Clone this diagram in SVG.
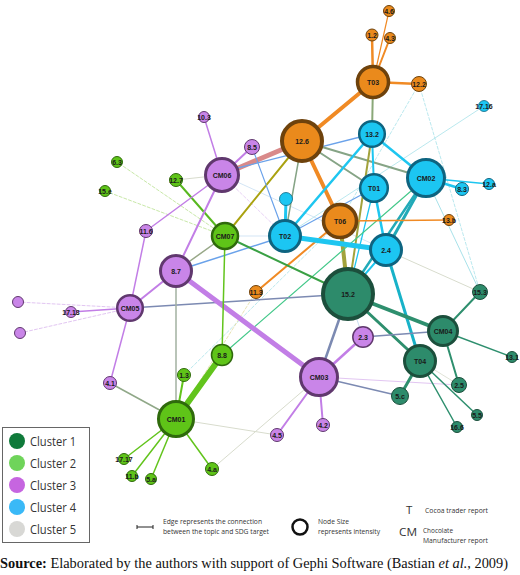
<svg xmlns="http://www.w3.org/2000/svg" width="520" height="575" viewBox="0 0 520 575">
<style>
.e{fill:none;stroke-linecap:round}
.or{stroke:#f08a24}.ol{stroke:#a2a23c}.gg{stroke:#86a486}.bl{stroke:#6aa2ea}.cy{stroke:#1ec6f0}.tl{stroke:#22aab8}
.tg{stroke:#2e8f6e}.sl{stroke:#7c8ab2}.pu{stroke:#c27ee6}.li{stroke:#62c41c}.sa{stroke:#d98a8a}.gr{stroke:#3aa044}
.pl{stroke:#d8dccd}.pc{stroke:#a8e2ea}.pp{stroke:#e2c6f2}.pg{stroke:#c8e8a8}.py{stroke:#e2dca2}.pb{stroke:#c8def2}.mg{stroke:#44c88a}
.d{stroke-dasharray:3 2}
.c1{fill:#2d8b6b;stroke:#1c4f3c}.c2{fill:#5fc418;stroke:#2f6a0c}.c3{fill:#c985e8;stroke:#60386e}.c4{fill:#1cc6f2;stroke:#0e6480}.c5{fill:#ea8a1c;stroke:#6e420c}
.lb{font-family:"Liberation Sans",Arial,sans-serif;font-weight:bold;font-size:7px;fill:#1a1a1a;text-anchor:middle;dominant-baseline:central}
.lg{font-family:"Open Sans",sans-serif;fill:#333}
</style>
<rect width="520" height="575" fill="#fff"/>
<g id="connectors">
<line class="e pc" x1="484" y1="106" x2="285" y2="236" stroke-width="0.8"/>
<line class="e pc d" x1="419" y1="84" x2="340" y2="221" stroke-width="0.8"/>
<line class="e pc d" x1="419" y1="84" x2="480" y2="292" stroke-width="0.8"/>
<line class="e pc" x1="426" y1="178" x2="480" y2="292" stroke-width="1"/>
<line class="e pl" x1="386" y1="250" x2="480" y2="292" stroke-width="1"/>
<line class="e pl" x1="420" y1="361" x2="459" y2="385" stroke-width="0.8"/>
<line class="e pp" x1="319" y1="377" x2="459" y2="385" stroke-width="1"/>
<line class="e pb" x1="348" y1="294" x2="363" y2="337" stroke-width="1"/>
<line class="e pl" x1="176" y1="419" x2="277" y2="435" stroke-width="1"/>
<line class="e pl" x1="212" y1="469" x2="319" y2="377" stroke-width="1"/>
<line class="e pc d" x1="184" y1="375" x2="340" y2="221" stroke-width="0.8"/>
<line class="e py d" x1="176" y1="419" x2="256" y2="292" stroke-width="0.8"/>
<line class="e pg d" x1="225" y1="236" x2="117" y2="162" stroke-width="1"/>
<line class="e pg d" x1="225" y1="236" x2="105" y2="191" stroke-width="1"/>
<line class="e pl" x1="222" y1="175" x2="176" y2="180" stroke-width="1"/>
<line class="e pp d" x1="222" y1="175" x2="285" y2="236" stroke-width="0.8"/>
<line class="e pb" x1="222" y1="175" x2="386" y2="250" stroke-width="0.8"/>
<line class="e pp d" x1="130" y1="308" x2="18" y2="302" stroke-width="1"/>
<line class="e pp d" x1="130" y1="308" x2="20" y2="333" stroke-width="1"/>
<line class="e pb" x1="225" y1="236" x2="285" y2="236" stroke-width="0.8"/>
<line class="e or" x1="373" y1="82" x2="389" y2="11" stroke-width="1.2"/>
<line class="e or" x1="373" y1="82" x2="372" y2="35" stroke-width="2.5"/>
<line class="e or" x1="373" y1="82" x2="390" y2="38" stroke-width="2"/>
<line class="e or" x1="373" y1="82" x2="419" y2="84" stroke-width="2.5"/>
<line class="e or" x1="373" y1="82" x2="302" y2="141" stroke-width="4"/>
<line class="e" stroke="#8aa878" x1="373" y1="82" x2="372" y2="134" stroke-width="2"/>
<line class="e sa" x1="302" y1="141" x2="222" y2="175" stroke-width="5"/>
<line class="e bl" x1="222" y1="172" x2="372" y2="134" stroke-width="1.3"/>
<line class="e or" x1="302" y1="141" x2="340" y2="221" stroke-width="4"/>
<line class="e gg" x1="302" y1="141" x2="426" y2="178" stroke-width="2"/>
<line class="e gg" x1="302" y1="141" x2="374" y2="188" stroke-width="2"/>
<line class="e gg" x1="302" y1="141" x2="285" y2="236" stroke-width="1.5"/>
<line class="e" stroke="#aaa210" x1="302" y1="141" x2="225" y2="236" stroke-width="2"/>
<line class="e bl" x1="252" y1="147" x2="285" y2="236" stroke-width="1.2"/>
<line class="e pu" x1="252" y1="147" x2="222" y2="175" stroke-width="2"/>
<line class="e cy" x1="372" y1="134" x2="374" y2="188" stroke-width="2"/>
<line class="e cy" x1="372" y1="134" x2="426" y2="178" stroke-width="2.5"/>
<line class="e cy" x1="372" y1="134" x2="285" y2="236" stroke-width="2.5"/>
<line class="e ol" x1="372" y1="134" x2="348" y2="294" stroke-width="2"/>
<line class="e ol" x1="340" y1="221" x2="348" y2="294" stroke-width="4"/>
<line class="e cy" x1="374" y1="188" x2="348" y2="294" stroke-width="1.3"/>
<line class="e cy" x1="374" y1="188" x2="386" y2="250" stroke-width="2.5"/>
<line class="e bl" x1="374" y1="188" x2="285" y2="236" stroke-width="1.2"/>
<line class="e cy" x1="426" y1="178" x2="462" y2="189" stroke-width="2.5"/>
<line class="e cy" x1="426" y1="178" x2="489" y2="184" stroke-width="1.5"/>
<line class="e tl" x1="426" y1="178" x2="386" y2="250" stroke-width="3"/>
<line class="e tl" x1="426" y1="178" x2="348" y2="294" stroke-width="2.5"/>
<line class="e mg" x1="426" y1="178" x2="222" y2="355" stroke-width="1.2"/>
<line class="e or" x1="340" y1="221" x2="449" y2="220" stroke-width="1.5"/>
<line class="e or" x1="340" y1="221" x2="256" y2="292" stroke-width="2"/>
<line class="e cy" x1="285" y1="236" x2="286" y2="199" stroke-width="3"/>
<line class="e cy" x1="285" y1="236" x2="386" y2="250" stroke-width="5"/>
<line class="e bl" x1="285" y1="236" x2="176" y2="271" stroke-width="1.5"/>
<line class="e" stroke="#18b2c8" x1="386" y1="250" x2="420" y2="361" stroke-width="3"/>
<line class="e cy" x1="386" y1="250" x2="348" y2="294" stroke-width="2"/>
<line class="e tg" x1="348" y1="294" x2="443" y2="331" stroke-width="4"/>
<line class="e tg" x1="348" y1="294" x2="420" y2="361" stroke-width="3"/>
<line class="e sl" x1="348" y1="294" x2="319" y2="377" stroke-width="2.5"/>
<line class="e sl" x1="348" y1="294" x2="130" y2="308" stroke-width="1.5"/>
<line class="e gr" x1="348" y1="294" x2="225" y2="236" stroke-width="2"/>
<line class="e tg" x1="443" y1="331" x2="480" y2="292" stroke-width="2"/>
<line class="e tg" x1="443" y1="331" x2="512" y2="357" stroke-width="1.5"/>
<line class="e tg" x1="443" y1="331" x2="459" y2="385" stroke-width="2"/>
<line class="e sl" x1="443" y1="331" x2="363" y2="337" stroke-width="1.5"/>
<line class="e tg" x1="420" y1="361" x2="400" y2="396" stroke-width="3"/>
<line class="e tg" x1="420" y1="361" x2="457" y2="427" stroke-width="1.5"/>
<line class="e tg" x1="420" y1="361" x2="477" y2="415" stroke-width="1.5"/>
<line class="e pu" x1="319" y1="377" x2="363" y2="337" stroke-width="2.5"/>
<line class="e pu" x1="319" y1="377" x2="176" y2="271" stroke-width="5"/>
<line class="e pu" x1="319" y1="377" x2="277" y2="435" stroke-width="2"/>
<line class="e pu" x1="319" y1="377" x2="323" y2="425" stroke-width="2"/>
<line class="e sl" x1="319" y1="377" x2="400" y2="396" stroke-width="1.5"/>
<line class="e li" x1="176" y1="419" x2="222" y2="355" stroke-width="6"/>
<line class="e li" x1="176" y1="419" x2="184" y2="375" stroke-width="2"/>
<line class="e li" x1="176" y1="419" x2="124" y2="459" stroke-width="1.5"/>
<line class="e li" x1="176" y1="419" x2="132" y2="476" stroke-width="1.5"/>
<line class="e li" x1="176" y1="419" x2="151" y2="479" stroke-width="1.5"/>
<line class="e li" x1="176" y1="419" x2="212" y2="469" stroke-width="1.5"/>
<line class="e" stroke="#a2b0a0" x1="176" y1="419" x2="176" y2="271" stroke-width="1.5"/>
<line class="e" stroke="#90a888" x1="176" y1="419" x2="110" y2="383" stroke-width="1.5"/>
<line class="e li" x1="222" y1="355" x2="225" y2="236" stroke-width="1.5"/>
<line class="e" stroke="#58b820" x1="225" y1="236" x2="176" y2="180" stroke-width="2"/>
<line class="e" stroke="#98a888" x1="225" y1="236" x2="176" y2="271" stroke-width="1.5"/>
<line class="e pu" x1="222" y1="175" x2="204" y2="117" stroke-width="1.5"/>
<line class="e pu" x1="222" y1="175" x2="146" y2="231" stroke-width="1.5"/>
<line class="e pu" x1="222" y1="175" x2="176" y2="271" stroke-width="2"/>
<line class="e pu" x1="176" y1="271" x2="130" y2="308" stroke-width="2"/>
<line class="e pu" x1="130" y1="308" x2="71" y2="312" stroke-width="1.5"/>
<line class="e pu" x1="130" y1="308" x2="110" y2="383" stroke-width="1.5"/>
<line class="e pu" x1="146" y1="231" x2="130" y2="308" stroke-width="1.5"/>
</g>
<g id="nodes">
<g id="n-15-2"><circle class="c1" cx="348" cy="294" r="25" stroke-width="4"/><text class="lb" x="348" y="294">15.2</text></g>
<g id="n-CM04"><circle class="c1" cx="443" cy="331" r="14.5" stroke-width="3"/><text class="lb" x="443" y="331">CM04</text></g>
<g id="n-T04"><circle class="c1" cx="420" cy="361" r="15.5" stroke-width="3"/><text class="lb" x="420" y="361">T04</text></g>
<g id="n-15-3"><circle class="c1" cx="480" cy="292" r="7.5" stroke-width="1"/><text class="lb" x="480" y="292">15.3</text></g>
<g id="n-13-1"><circle class="c1" cx="512" cy="357" r="5.5" stroke-width="1"/><text class="lb" x="512" y="357">13.1</text></g>
<g id="n-2-5"><circle class="c1" cx="459" cy="385" r="7.5" stroke-width="1"/><text class="lb" x="459" y="385">2.5</text></g>
<g id="n-5-c"><circle class="c1" cx="400" cy="396" r="8.5" stroke-width="1"/><text class="lb" x="400" y="396">5.c</text></g>
<g id="n-5-5"><circle class="c1" cx="477" cy="415" r="5.5" stroke-width="1"/><text class="lb" x="477" y="415">5.5</text></g>
<g id="n-16-6"><circle class="c1" cx="457" cy="427" r="5.5" stroke-width="1"/><text class="lb" x="457" y="427">16.6</text></g>
<g id="n-CM01"><circle class="c2" cx="176" cy="419" r="17.5" stroke-width="3"/><text class="lb" x="176" y="419">CM01</text></g>
<g id="n-CM07"><circle class="c2" cx="225" cy="236" r="13" stroke-width="2.5"/><text class="lb" x="225" y="236">CM07</text></g>
<g id="n-8-8"><circle class="c2" cx="222" cy="355" r="10.5" stroke-width="1.5"/><text class="lb" x="222" y="355">8.8</text></g>
<g id="n-1-3"><circle class="c2" cx="184" cy="375" r="6.5" stroke-width="1"/><text class="lb" x="184" y="375">1.3</text></g>
<g id="n-12-7"><circle class="c2" cx="176" cy="180" r="6.5" stroke-width="1"/><text class="lb" x="176" y="180">12.7</text></g>
<g id="n-6-3"><circle class="c2" cx="117" cy="162" r="5.5" stroke-width="1"/><text class="lb" x="117" y="162">6.3</text></g>
<g id="n-15-e"><circle class="c2" cx="105" cy="191" r="5.5" stroke-width="1"/><text class="lb" x="105" y="191">15.e</text></g>
<g id="n-17-17"><circle class="c2" cx="124" cy="459" r="5.5" stroke-width="1"/><text class="lb" x="124" y="459">17.17</text></g>
<g id="n-11-b"><circle class="c2" cx="132" cy="476" r="5.5" stroke-width="1"/><text class="lb" x="132" y="476">11.b</text></g>
<g id="n-5-a"><circle class="c2" cx="151" cy="479" r="5.5" stroke-width="1"/><text class="lb" x="151" y="479">5.a</text></g>
<g id="n-4-a"><circle class="c2" cx="212" cy="469" r="6.5" stroke-width="1"/><text class="lb" x="212" y="469">4.a</text></g>
<g id="n-CM06"><circle class="c3" cx="222" cy="175" r="16.5" stroke-width="3"/><text class="lb" x="222" y="175">CM06</text></g>
<g id="n-8-7"><circle class="c3" cx="176" cy="271" r="15.5" stroke-width="3"/><text class="lb" x="176" y="271">8.7</text></g>
<g id="n-CM05"><circle class="c3" cx="130" cy="308" r="12.8" stroke-width="2.5"/><text class="lb" x="130" y="308">CM05</text></g>
<g id="n-CM03"><circle class="c3" cx="319" cy="377" r="18.5" stroke-width="3"/><text class="lb" x="319" y="377">CM03</text></g>
<g id="n-2-3"><circle class="c3" cx="363" cy="337" r="10.2" stroke-width="1.5"/><text class="lb" x="363" y="337">2.3</text></g>
<g id="n-10-3"><circle class="c3" cx="204" cy="117" r="5.5" stroke-width="1"/><text class="lb" x="204" y="117">10.3</text></g>
<g id="n-8-5"><circle class="c3" cx="252" cy="147" r="7.5" stroke-width="1"/><text class="lb" x="252" y="147">8.5</text></g>
<g id="n-11-6"><circle class="c3" cx="146" cy="231" r="6.5" stroke-width="1"/><text class="lb" x="146" y="231">11.6</text></g>
<g id="n-17-13"><circle class="c3" cx="71" cy="312" r="5.5" stroke-width="1"/><text class="lb" x="71" y="312">17.13</text></g>
<g id="n-p1"><circle class="c3" cx="18" cy="302" r="5.5" stroke-width="1"/></g>
<g id="n-p2"><circle class="c3" cx="20" cy="333" r="5.5" stroke-width="1"/></g>
<g id="n-4-1"><circle class="c3" cx="110" cy="383" r="6.5" stroke-width="1"/><text class="lb" x="110" y="383">4.1</text></g>
<g id="n-4-5"><circle class="c3" cx="277" cy="435" r="6.5" stroke-width="1"/><text class="lb" x="277" y="435">4.5</text></g>
<g id="n-4-2"><circle class="c3" cx="323" cy="425" r="6.5" stroke-width="1"/><text class="lb" x="323" y="425">4.2</text></g>
<g id="n-13-2"><circle class="c4" cx="372" cy="134" r="12.8" stroke-width="2.5"/><text class="lb" x="372" y="134">13.2</text></g>
<g id="n-T01"><circle class="c4" cx="374" cy="188" r="13.8" stroke-width="2.5"/><text class="lb" x="374" y="188">T01</text></g>
<g id="n-CM02"><circle class="c4" cx="426" cy="178" r="18.5" stroke-width="3"/><text class="lb" x="426" y="178">CM02</text></g>
<g id="n-T02"><circle class="c4" cx="285" cy="236" r="15.5" stroke-width="3"/><text class="lb" x="285" y="236">T02</text></g>
<g id="n-2-4"><circle class="c4" cx="386" cy="250" r="15.5" stroke-width="3"/><text class="lb" x="386" y="250">2.4</text></g>
<g id="n-8-3"><circle class="c4" cx="462" cy="189" r="6.5" stroke-width="1"/><text class="lb" x="462" y="189">8.3</text></g>
<g id="n-12-a"><circle class="c4" cx="489" cy="184" r="5.5" stroke-width="1"/><text class="lb" x="489" y="184">12.a</text></g>
<g id="n-17-16"><circle class="c4" cx="484" cy="106" r="5.5" stroke-width="0.8"/><text class="lb" x="484" y="106">17.16</text></g>
<g id="n-c4x"><circle class="c4" cx="286" cy="199" r="6.5" stroke-width="0.8"/></g>
<g id="n-T03"><circle class="c5" cx="373" cy="82" r="15.5" stroke-width="3.5"/><text class="lb" x="373" y="82">T03</text></g>
<g id="n-12-6"><circle class="c5" cx="302" cy="141" r="20" stroke-width="4"/><text class="lb" x="302" y="141">12.6</text></g>
<g id="n-T06"><circle class="c5" cx="340" cy="221" r="16.5" stroke-width="3.5"/><text class="lb" x="340" y="221">T06</text></g>
<g id="n-4-6"><circle class="c5" cx="389" cy="11" r="5.5" stroke-width="1"/><text class="lb" x="389" y="11">4.6</text></g>
<g id="n-1-2"><circle class="c5" cx="372" cy="35" r="6" stroke-width="1"/><text class="lb" x="372" y="35">1.2</text></g>
<g id="n-4-3"><circle class="c5" cx="390" cy="38" r="5.5" stroke-width="1"/><text class="lb" x="390" y="38">4.3</text></g>
<g id="n-12-2"><circle class="c5" cx="419" cy="84" r="7.5" stroke-width="1"/><text class="lb" x="419" y="84">12.2</text></g>
<g id="n-13-b"><circle class="c5" cx="449" cy="220" r="5.5" stroke-width="1"/><text class="lb" x="449" y="220">13.b</text></g>
<g id="n-11-3"><circle class="c5" cx="256" cy="292" r="6.5" stroke-width="1"/><text class="lb" x="256" y="292">11.3</text></g>
</g>
<g id="legend">
<rect x="2.5" y="427.5" width="87" height="115" fill="#fff" stroke="#666" stroke-width="1"/>
<circle cx="17" cy="441" r="8" fill="#0f7a3a"/>
<circle cx="17" cy="463" r="8" fill="#6fd45a"/>
<circle cx="17" cy="485" r="8" fill="#c665e0"/>
<circle cx="17" cy="507" r="8" fill="#3ab9f7"/>
<circle cx="17" cy="529" r="8" fill="#d8d8d5"/>
<text class="lg" x="30" y="446" font-size="13" textLength="46" lengthAdjust="spacingAndGlyphs">Cluster 1</text>
<text class="lg" x="30" y="468" font-size="13" textLength="46" lengthAdjust="spacingAndGlyphs">Cluster 2</text>
<text class="lg" x="30" y="490" font-size="13" textLength="46" lengthAdjust="spacingAndGlyphs">Cluster 3</text>
<text class="lg" x="30" y="512" font-size="13" textLength="46" lengthAdjust="spacingAndGlyphs">Cluster 4</text>
<text class="lg" x="30" y="534" font-size="13" textLength="46" lengthAdjust="spacingAndGlyphs">Cluster 5</text>
<g stroke="#222" stroke-width="1"><line x1="137" y1="527" x2="153" y2="527"/><line x1="137" y1="525" x2="137" y2="529"/><line x1="153" y1="525" x2="153" y2="529"/></g>
<text class="lg" x="163" y="524" font-size="7" textLength="99" lengthAdjust="spacingAndGlyphs">Edge represents the connection</text>
<text class="lg" x="163" y="533.5" font-size="7" textLength="106" lengthAdjust="spacingAndGlyphs">between the topic and SDG target</text>
<circle cx="300" cy="527" r="7.5" fill="none" stroke="#111" stroke-width="2.5"/>
<text class="lg" x="318" y="523.5" font-size="7" textLength="31" lengthAdjust="spacingAndGlyphs">Node Size</text>
<text class="lg" x="318" y="533.5" font-size="7" textLength="62" lengthAdjust="spacingAndGlyphs">represents intensity</text>
<text class="lg" x="406" y="514" font-size="11.5" fill="#111">T</text>
<text class="lg" x="425" y="512.5" font-size="7" textLength="63" lengthAdjust="spacingAndGlyphs">Cocoa trader report</text>
<text class="lg" x="399" y="536" font-size="11.5" fill="#111" textLength="18" lengthAdjust="spacingAndGlyphs">CM</text>
<text class="lg" x="423" y="532.5" font-size="7" textLength="30" lengthAdjust="spacingAndGlyphs">Chocolate</text>
<text class="lg" x="423" y="542.5" font-size="7" textLength="65" lengthAdjust="spacingAndGlyphs">Manufacturer report</text>
</g>
<text x="0" y="568" font-family="'Liberation Serif','Times New Roman',serif" font-size="14.2" fill="#111" textLength="508" lengthAdjust="spacingAndGlyphs"><tspan font-weight="bold">Source:</tspan> Elaborated by the authors with support of Gephi Software (Bastian <tspan font-style="italic">et al.</tspan>, 2009)</text>
</svg>
